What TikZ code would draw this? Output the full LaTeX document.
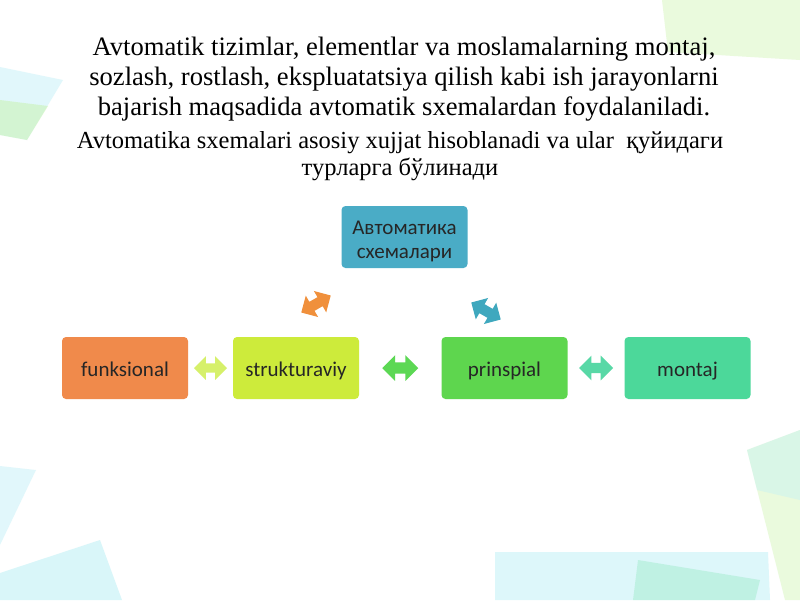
\documentclass[tikz,border=0pt]{standalone}
\usepackage{fontspec}
\setmainfont{Liberation Serif}
\newfontfamily\titlefont{Liberation Serif}
\newfontfamily\boxfont{Carlito}
\usetikzlibrary{shapes.arrows,calc}
\definecolor{cTeal}{RGB}{74,172,198}
\definecolor{cOrange}{RGB}{240,138,75}
\definecolor{cYel}{RGB}{205,235,59}
\definecolor{cGreen}{RGB}{94,214,78}
\definecolor{cMint}{RGB}{76,216,154}
\definecolor{aYel}{RGB}{214,240,106}
\definecolor{aGreen}{RGB}{92,216,84}
\definecolor{aMint}{RGB}{88,216,166}
\definecolor{aOrange}{RGB}{240,144,60}
\definecolor{aTeal}{RGB}{63,168,190}
\definecolor{bgCyan}{RGB}{150,230,240}
\definecolor{bgGreen}{RGB}{190,240,150}
\tikzset{
  catbox/.style={rounded corners=4pt, minimum width=126pt, minimum height=62pt,
    inner sep=2pt, align=center, font=\boxfont\fontsize{21}{24}\selectfont, text=black!85},
  oneline/.style={text height=21pt, text depth=4pt},
  dblarrow/.style={double arrow, draw=none, inner xsep=0pt, inner ysep=0pt,
    minimum width=20pt, minimum height=35pt},
  bgshape/.style={draw=none, opacity=0.4}
}
\newcommand{\shaft}{\rule{0pt}{10pt}}
\begin{document}
\begin{tikzpicture}[x=1pt,y=-1pt]
\useasboundingbox (0,0) rectangle (800,600);
\fill[white] (0,0) rectangle (800,600);
% decorative background
\fill[bgshape, bgCyan!70] (0,67) -- (63,80) -- (27,140) -- (0,135) -- cycle;
\fill[bgshape, bgGreen] (0,100) -- (48,106) -- (27,140) -- (0,135) -- cycle;
\fill[bgshape, bgGreen!80] (662,0) -- (800,0) -- (800,60) -- (668,52) -- cycle;
\fill[bgshape, bgCyan!70] (0,466) -- (36,470) -- (0,545) -- cycle;
\fill[bgshape, bgCyan!90] (0,573) -- (100,540) -- (122,600) -- (0,600) -- cycle;
\fill[bgshape, bgCyan!80] (495,552) -- (768,552) -- (770,600) -- (495,600) -- cycle;
\fill[bgshape, cMint!60] (638,560) -- (760,580) -- (755,600) -- (633,600) -- cycle;
\fill[bgshape, bgGreen!80] (747,450) -- (800,430) -- (800,600) -- (785,600) -- cycle;
\fill[bgshape, bgCyan!60] (747,450) -- (800,430) -- (800,500) -- (757,490) -- cycle;
% texts
\node[font=\titlefont\fontsize{26.6}{30}\selectfont, align=center, anchor=base]
  (title) at (404,115) {Avtomatik tizimlar, elementlar va moslamalarning montaj,\\
  sozlash, rostlash, ekspluatatsiya qilish kabi ish jarayonlarni\\
  bajarish maqsadida avtomatik sxemalardan foydalaniladi.};
\node[font=\titlefont\fontsize{24.5}{27}\selectfont, align=center, anchor=base]
  (sub) at (400,175) {Avtomatika sxemalari asosiy xujjat hisoblanadi va ular \ қуйидаги\\
  турларга бўлинади};
% boxes
\node[catbox, fill=cTeal] (top) at (404.5,237) {\raisebox{-10pt}[0pt][0pt]{\begin{tabular}{@{}c@{}}Автоматика\\схемалари\end{tabular}}};
\node[catbox, oneline, fill=cOrange] (fun) at (125,368) {funksional};
\node[catbox, oneline, fill=cYel] (str) at (296,368) {strukturaviy};
\node[catbox, oneline, fill=cGreen] (pri) at (504.5,368) {prinspial};
\node[catbox, oneline, fill=cMint] (mon) at (687.5,368) {montaj};
% double arrows
\node[dblarrow, fill=aYel, minimum height=33pt, minimum width=17pt] (a1) at ($(fun.east)!0.5!(str.west)$) {\rule{0pt}{9pt}};
\node[dblarrow, fill=aGreen, minimum height=36pt, minimum width=21pt] (a2) at ($(str.east)!0.5!(pri.west)$) {\rule{0pt}{11pt}};
\node[dblarrow, fill=aMint, minimum height=34pt, minimum width=20pt] (a3) at ($(pri.east)!0.5!(mon.west)$) {\shaft};
\node[dblarrow, fill=aOrange, rotate=30, minimum height=34pt, minimum width=20pt] (a4) at (316,304) {\shaft};
\node[dblarrow, fill=aTeal, rotate=-30, minimum height=34pt, minimum width=20pt] (a5) at (486,311) {\shaft};
\end{tikzpicture}
\end{document}
